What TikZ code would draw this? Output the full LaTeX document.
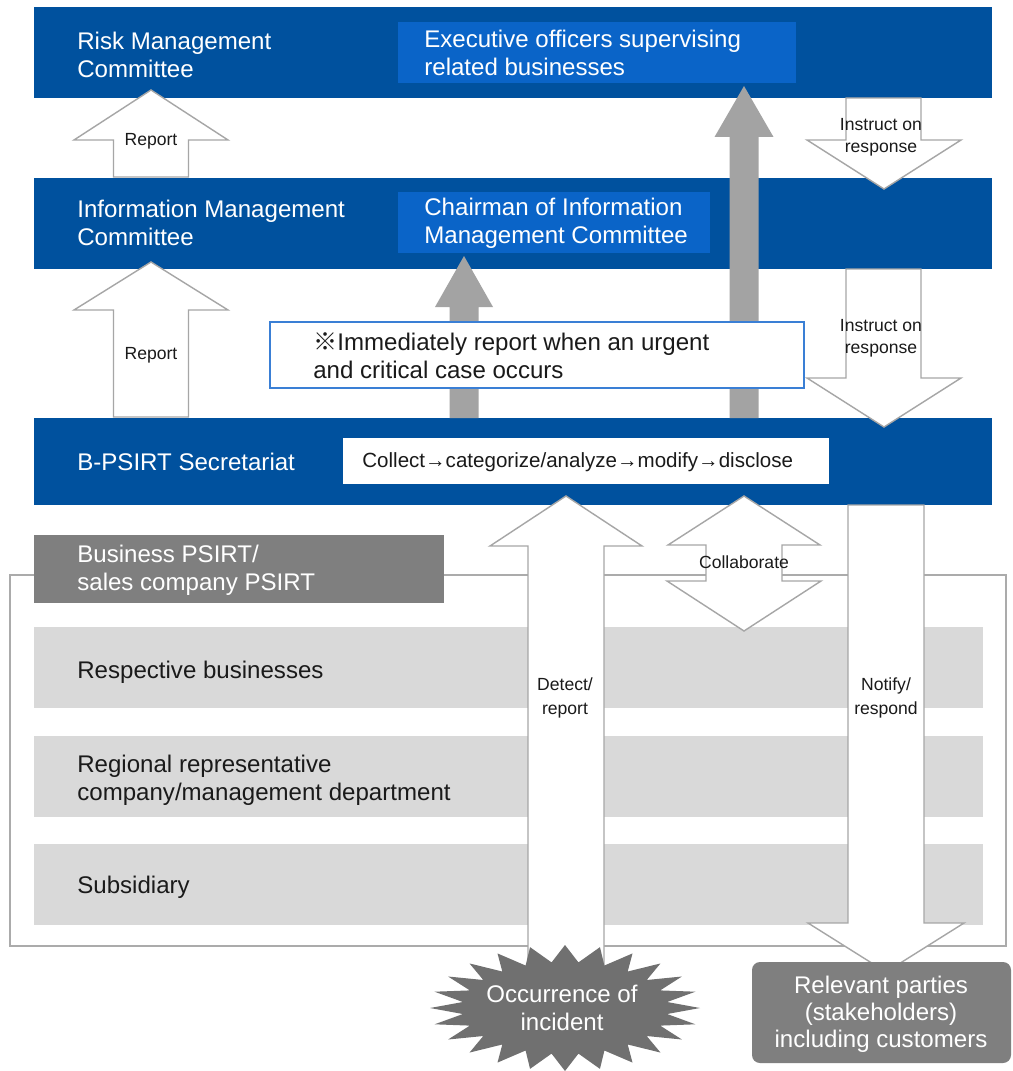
\documentclass[tikz,border=0pt]{standalone}
\usepackage{fontspec}
\setmainfont{Liberation Sans}
\newfontfamily\cjkfont{Noto Sans CJK JP}
\definecolor{barblue}{HTML}{00519E}
\definecolor{innerblue}{HTML}{0A64C8}
\definecolor{noteblue}{HTML}{3A7FD5}
\definecolor{rowgray}{HTML}{D9D9D9}
\definecolor{bizgray}{HTML}{7F7F7F}
\definecolor{burstgray}{HTML}{707070}
\definecolor{arrowgray}{HTML}{A3A3A3}
\definecolor{outlinegray}{HTML}{A6A6A6}
\definecolor{framegray}{HTML}{ABABAB}
\definecolor{textblack}{HTML}{1A1A1A}
\begin{document}
\begin{tikzpicture}[x=0.02cm,y=-0.02cm,
  txt/.style={inner sep=0pt, align=left, anchor=west, font=\fontsize{13.7}{15.9}\selectfont},
  wtxt/.style={txt, text=white},
  btxt/.style={txt, text=textblack},
  lab/.style={inner sep=0pt, align=center, font=\fontsize{10}{12.5}\selectfont, text=textblack},
  hollow/.style={fill=white, draw=outlinegray, line width=0.8pt, line join=miter},
  solidarr/.style={fill=arrowgray},
  band/.style={fill=barblue},
  row/.style={fill=rowgray}]
\useasboundingbox (0,0) rectangle (1012,1071);
\fill[white] (0,0) rectangle (1012,1071);

% outer frame
\draw[framegray, line width=0.9pt] (10,575) rectangle (1006,946);

% blue bands
\fill[band] (34,7) rectangle (992,98);
\fill[band] (34,178) rectangle (992,269);
\fill[band] (34,418) rectangle (992,505);
\fill[innerblue] (398,22) rectangle (796,83);
\fill[innerblue] (398,192) rectangle (710,253);
\fill[white] (343,438) rectangle (829,484);

% gray rows
\fill[row] (34,627) rectangle (983,708);
\fill[row] (34,736) rectangle (983,817);
\fill[row] (34,844) rectangle (983,925);
\fill[bizgray] (34,535) rectangle (444,603);

% solid gray arrows
\fill[solidarr] (464,256) -- (493,307) -- (478.5,307) -- (478.5,418) -- (449.5,418) -- (449.5,307) -- (435,307) -- cycle;
\fill[solidarr] (744,86) -- (773.5,137) -- (758.5,137) -- (758.5,418) -- (729.5,418) -- (729.5,137) -- (714.5,137) -- cycle;

% note box
\draw[noteblue, fill=white, line width=0.9pt] (270,322) rectangle (804,388);

% hollow arrows
\draw[hollow] (151,90) -- (228,140) -- (188.5,140) -- (188.5,177) -- (113.5,177) -- (113.5,140) -- (74,140) -- cycle;
\draw[hollow] (151,262) -- (228,310) -- (188.5,310) -- (188.5,417) -- (113.5,417) -- (113.5,310) -- (74,310) -- cycle;
\draw[hollow] (846,98) -- (921,98) -- (921,140) -- (961,140) -- (884,189) -- (807,140) -- (846,140) -- cycle;
\draw[hollow] (846,269) -- (921,269) -- (921,378) -- (961,378) -- (884,427) -- (807,378) -- (846,378) -- cycle;
\draw[hollow] (566,496) -- (642,546) -- (604,546) -- (604,965) -- (528,965) -- (528,546) -- (490,546) -- cycle;
\draw[hollow] (744,496) -- (820,545) -- (782,545) -- (782,581) -- (821,581) -- (744,631) -- (667,581) -- (706,581) -- (706,545) -- (668,545) -- cycle;
\draw[hollow] (848,505) -- (924,505) -- (924,923) -- (964,923) -- (886,972) -- (808,923) -- (848,923) -- cycle;

% relevant parties box
\fill[bizgray, rounded corners=0.16cm] (752,962) rectangle (1011,1063);

% starburst
\fill[burstgray] (700,1008) \foreach \i in {0,...,23} {
  -- ({565+135*cos(\i*15)},{1008-63*sin(\i*15)})
  -- ({565+103*cos(\i*15+7.5)},{1008-46*sin(\i*15+7.5)}) } -- cycle;

% texts
\node[wtxt] (risk) at (77,55) {Risk Management\\Committee};
\node[wtxt] (exec) at (424,53) {Executive officers supervising\\related businesses};
\node[wtxt] (info) at (77,223) {Information Management\\Committee};
\node[wtxt] (chair) at (424,223) {Chairman of Information\\Management Committee};
\node[wtxt] (bps) at (77,462) {B-PSIRT Secretariat};
\node[btxt, font=\fontsize{11.7}{14}\selectfont] (flow) at (362,462) {Collect→categorize/analyze→modify→disclose};
\node[btxt] (note) at (313,356) {{\cjkfont ※}Immediately report when an urgent\\and critical case occurs};
\node[wtxt] (biz) at (77,570) {Business PSIRT/\\sales company PSIRT};
\node[btxt] (resp) at (77,672) {Respective businesses};
\node[btxt] (reg) at (77,780) {Regional representative\\company/management department};
\node[btxt] (sub) at (77,887) {Subsidiary};

\node[lab] (rep1) at (151,141) {Report};
\node[lab] (rep2) at (151,355) {Report};
\node[lab] (ins1) at (881,137) {Instruct on\\response};
\node[lab] (ins2) at (881,338) {Instruct on\\response};
\node[lab] (col) at (744,562) {Collaborate};
\node[lab, font=\fontsize{10}{13.5}\selectfont] (det) at (565,698) {Detect/\\report};
\node[lab, font=\fontsize{10}{13.5}\selectfont] (ntf) at (886,698) {Notify/\\respond};

\node[inner sep=0pt, align=center, text=white, font=\fontsize{13.7}{15.5}\selectfont] (inc) at (562,1008) {Occurrence of\\incident};
\node[inner sep=0pt, align=center, text=white, font=\fontsize{13.7}{15.3}\selectfont] (rel) at (881,1014) {Relevant parties\\(stakeholders)\\including customers};
\end{tikzpicture}
\end{document}
